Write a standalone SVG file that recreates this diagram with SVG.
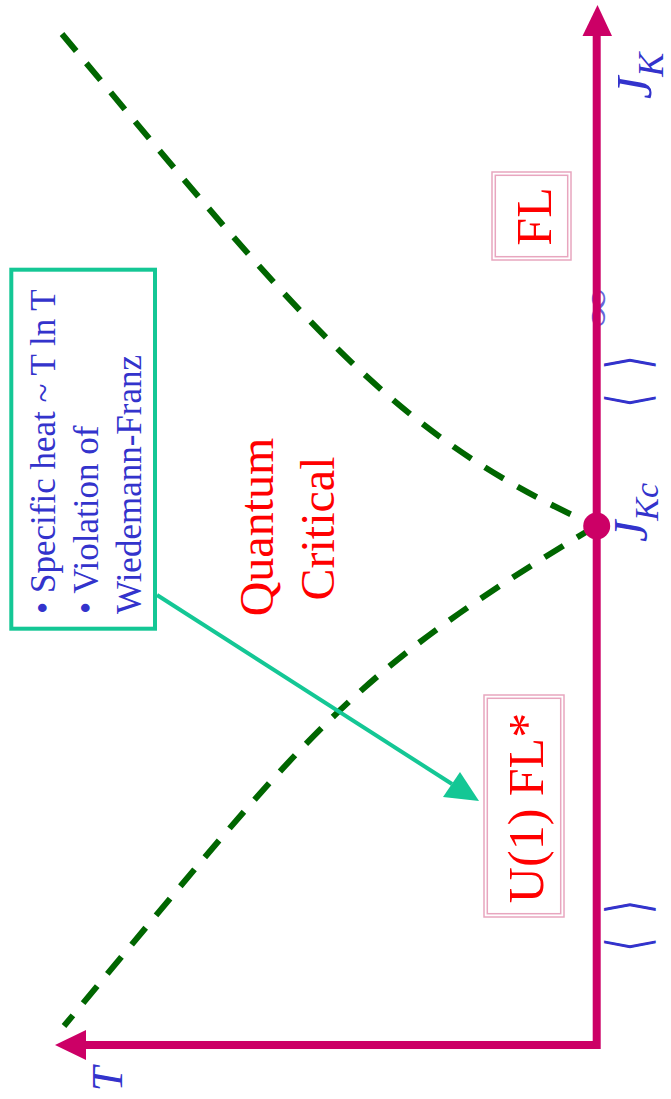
<svg xmlns="http://www.w3.org/2000/svg" width="671" height="1099" viewBox="0 0 671 1099">
<style>
.serif{font-family:"Liberation Serif","Times New Roman",serif;}
.red{fill:#FF0000;}
.blue{fill:#3333CC;}
.it{font-style:italic;}
.dash{fill:none;stroke:#006600;stroke-width:6;stroke-dasharray:22 16;}
.pbox{fill:none;stroke:#E8A6BF;stroke-width:1.5;}
.axis{fill:none;stroke:#CC0066;stroke-width:8;stroke-linejoin:miter;}
.mag{fill:#CC0066;}
.teal{stroke:#14C795;fill:none;}
.br{font-family:"DejaVu Sans",sans-serif;font-size:58px;fill:#3333CC;}
</style>
<rect width="671" height="1099" fill="#FFFFFF"/>

<g id="connectors">
  <path class="dash" d="M62,34 C312,334 396,436 596,526"/>
  <path class="dash" d="M596,526 C346,676 314,726 64,1026"/>
  <line class="teal" x1="157" y1="595" x2="452" y2="784" stroke-width="4"/>
  <polygon points="479,801 443,797 460,772" fill="#14C795"/>
</g>

<g id="hidden-symbol">
  <text class="serif blue" font-size="56" opacity="0.75" transform="translate(609,308) rotate(-90) scale(1,0.65)" text-anchor="middle">∞</text>
</g>

<g id="axes">
  <path class="axis" d="M596.7,34 V1045 H84"/>
  <polygon class="mag" points="597.5,5 582.5,36 612,36"/>
  <polygon class="mag" points="55,1045 86,1030 86,1060"/>
</g>

<g id="node-JKc">
  <circle class="mag" cx="596.7" cy="526" r="13.5"/>
  <text class="serif blue it" font-size="48" transform="translate(647,542) rotate(-90)">J<tspan font-size="34" dy="11">Kc</tspan></text>
</g>

<g id="label-JK">
  <text class="serif blue it" font-size="50" transform="translate(651,99) rotate(-90)">J<tspan font-size="36" dy="12">K</tspan></text>
</g>

<g id="label-T">
  <text class="serif blue it" font-size="44" transform="translate(122,1079) rotate(-90)" text-anchor="middle">T</text>
</g>

<g id="brackets-upper">
  <text class="br" transform="translate(647.5,400.5) rotate(-90) scale(0.6,1)" text-anchor="middle">⟨</text>
  <text class="br" transform="translate(647.5,362.5) rotate(-90) scale(0.6,1)" text-anchor="middle">⟩</text>
</g>

<g id="brackets-lower">
  <text class="br" transform="translate(647.5,944.5) rotate(-90) scale(0.6,1)" text-anchor="middle">⟨</text>
  <text class="br" transform="translate(647.5,907) rotate(-90) scale(0.6,1)" text-anchor="middle">⟩</text>
</g>

<g id="node-FL">
  <rect class="pbox" x="492" y="172" width="79" height="88"/>
  <rect class="pbox" x="495.3" y="175.3" width="72.4" height="81.4"/>
  <text class="serif red" font-size="50" transform="translate(551,216.5) rotate(-90)" text-anchor="middle">FL</text>
</g>

<g id="node-U1FL">
  <rect class="pbox" x="484" y="695" width="80" height="222"/>
  <rect class="pbox" x="487.3" y="698.3" width="73.4" height="215.4"/>
  <text class="serif red" font-size="50" transform="translate(543,808) rotate(-90)" text-anchor="middle">U(1) FL*</text>
</g>

<g id="node-QC">
  <text class="serif red" font-size="48" transform="translate(273,527) rotate(-90)" text-anchor="middle">Quantum</text>
  <text class="serif red" font-size="48" transform="translate(334,528.5) rotate(-90)" text-anchor="middle">Critical</text>
</g>

<g id="node-info">
  <rect x="11.3" y="269.7" width="143.7" height="359" fill="none" stroke="#14C795" stroke-width="4"/>
  <text class="serif blue" font-size="35" transform="rotate(-90)">
    <tspan x="-614" y="55">• Specific heat ~ T ln T</tspan>
    <tspan x="-614" y="98">• Violation of</tspan>
    <tspan x="-614" y="141">Wiedemann-Franz</tspan>
  </text>
</g>
</svg>
